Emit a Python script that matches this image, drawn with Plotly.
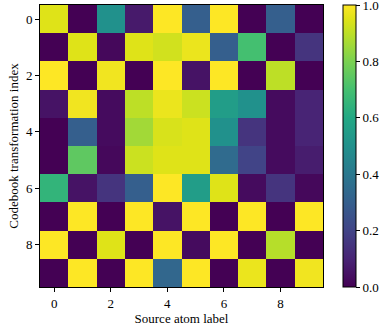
import plotly.graph_objects as go

x_labels = list(range(10))
y_labels = list(range(10))
values = [
    [0.95, 0.00, 0.50, 0.07, 1.00, 0.30, 1.00, 0.00, 0.30, 0.00],
    [0.00, 0.95, 0.02, 0.95, 0.93, 0.97, 0.30, 0.70, 0.00, 0.15],
    [1.00, 0.00, 0.98, 0.00, 1.00, 0.05, 1.00, 0.00, 0.90, 0.00],
    [0.05, 0.98, 0.03, 0.90, 0.97, 0.92, 0.55, 0.50, 0.03, 0.10],
    [0.00, 0.30, 0.03, 0.86, 0.94, 0.95, 0.50, 0.15, 0.03, 0.10],
    [0.00, 0.75, 0.02, 0.92, 0.95, 0.95, 0.35, 0.20, 0.03, 0.08],
    [0.65, 0.05, 0.15, 0.30, 1.00, 0.55, 0.95, 0.03, 0.15, 0.02],
    [0.00, 1.00, 0.00, 1.00, 0.05, 1.00, 0.00, 1.00, 0.00, 1.00],
    [1.00, 0.00, 0.95, 0.00, 1.00, 0.03, 1.00, 0.00, 0.89, 0.00],
    [0.00, 1.00, 0.00, 1.00, 0.33, 1.00, 0.00, 0.97, 0.00, 0.98],
]
tick_vals = [0, 2, 4, 6, 8]
cbar_ticks = [0.0, 0.2, 0.4, 0.6, 0.8, 1.0]
cbar_text = ["0.0", "0.2", "0.4", "0.6", "0.8", "1.0"]

viridis = [
    [0.0, "#440154"], [0.1, "#482475"], [0.2, "#414487"], [0.3, "#355f8d"],
    [0.4, "#2a788e"], [0.5, "#21918c"], [0.6, "#22a884"], [0.7, "#44bf70"],
    [0.8, "#7ad151"], [0.9, "#bddf26"], [0.95, "#dfe318"], [1.0, "#fde725"],
]

font = dict(family="Liberation Serif, DejaVu Serif, serif", size=13, color="black")

fig = go.Figure(go.Heatmap(
    z=values, x=x_labels, y=y_labels,
    colorscale=viridis, zmin=0, zmax=1,
    colorbar=dict(
        x=1.07, xanchor="left", xpad=0, y=0.5, yanchor="middle",
        len=1, lenmode="fraction", ypad=0,
        thickness=13, outlinewidth=1, outlinecolor="black",
        tickvals=cbar_ticks, ticktext=cbar_text,
        ticks="outside", ticklen=4, tickcolor="black",
        ticklabeloverflow="allow",
        tickfont=font,
    ),
))

fig.update_layout(
    width=390, height=328,
    margin=dict(l=40, r=67, t=5, b=41),
    plot_bgcolor="white", paper_bgcolor="white",
    font=font,
)
fig.update_xaxes(
    tickvals=tick_vals, ticks="outside", ticklen=4, tickcolor="black",
    showline=True, linecolor="black", linewidth=1, mirror=True,
    showgrid=False, zeroline=False, range=[-0.5, 9.5],
    title=dict(text="Source atom label", font=font, standoff=2),
    tickfont=font,
)
fig.update_yaxes(
    tickvals=tick_vals, ticks="outside", ticklen=4, tickcolor="black",
    showline=True, linecolor="black", linewidth=1, mirror=True,
    showgrid=False, zeroline=False, range=[9.5, -0.5],
    title=dict(text="Codebook transformation index", font=font, standoff=4),
    tickfont=font,
)

fig.write_html(
    "out.html",
    config={"displayModeBar": False},
    post_script="document.body.style.margin='0';document.body.style.padding='0';",
)
